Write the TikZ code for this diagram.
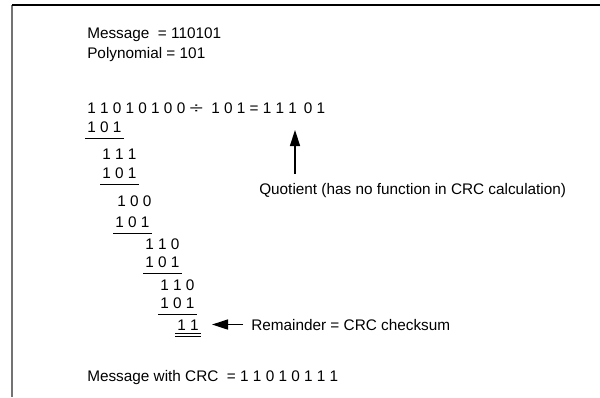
\documentclass[tikz,border=0pt]{standalone}
\usepackage{fontspec}
\usepackage{graphicx}
\setmainfont{Liberation Sans}
\usetikzlibrary{arrows.meta,positioning}

\tikzstyle{txt} = [anchor=base west, inner sep=0pt, font=\fontsize{11.5}{13.8}\selectfont]
\tikzstyle{row} = [txt, inner xsep=1.5pt, inner ysep=4.5pt]
\tikzstyle{uline} = [line width=1pt]
\tikzstyle{dline} = [line width=0.7pt]
\tikzstyle{pointer} = [-{Triangle[length=12pt,width=7.5pt]}, line width=1.1pt]

\begin{document}
\begin{tikzpicture}[x=0.75pt,y=-0.75pt]
  \useasboundingbox (0,0) rectangle (600,397);

  % frame
  \draw[black!55, line width=1.5pt] (12,5) -- (12,397);
  \draw[line width=1.2pt] (12,5) -- (600,5);

  \node[txt] (msg) at (87,38) {Message\ \ = 110101};
  \node[txt] (poly) at (87,58) {Polynomial = 101};

  \node[txt] (div) at (87,113) {1 1 0 1 0 1 0 0 \scalebox{1.6}[1]{÷}\hspace{3pt} 1 0 1 = 1 1 1\, 0 1};

  \node[row] (sub_a) at (85,132) {1 0 1};
  \node[row] (dif_a) at (100,159) {1 1 1};
  \node[row] (sub_b) at (100,178) {1 0 1};
  \node[row] (dif_b) at (115,206) {1 0 0};
  \node[row] (sub_c) at (113,227) {1 0 1};
  \node[row] (dif_c) at (143,249) {1 1 0};
  \node[row] (sub_d) at (143,267) {1 0 1};
  \node[row] (dif_d) at (158,290) {1 1 0};
  \node[row] (sub_e) at (158,308) {1 0 1};
  \node[row] (rem) at (175,330) {1 1};

  \node[txt] (qtxt) at (259,194) {Quotient (has no function in CRC calculation)};
  \node[txt, inner xsep=6pt] (rtxt) at (243,330) {Remainder = CRC checksum};

  \node[txt] (crc) at (87,381) {Message with CRC\ \ = 1 1 0 1 0 1 1 1};

  \coordinate (qbot) at (295,174);
  \coordinate (qtip) at (295,130);
  \coordinate (rtip) at (212,324);

  \draw[uline] (sub_a.south west) -- (sub_a.south east);
  \draw[uline] (sub_b.south west) -- (sub_b.south east);
  \draw[uline] (sub_c.south west) -- (sub_c.south east);
  \draw[uline] (sub_d.south west) -- (sub_d.south east);
  \draw[uline] (sub_e.south west) -- (sub_e.south east);
  \draw[dline] ([yshift=2.4pt]rem.south west) -- ([yshift=2.4pt]rem.south east);
  \draw[dline] (rem.south west) -- (rem.south east);

  \draw[pointer] (qbot) -- (qtip);
  \draw[pointer] (rtxt.west) -- (rtxt.west -| rtip);
\end{tikzpicture}
\end{document}
